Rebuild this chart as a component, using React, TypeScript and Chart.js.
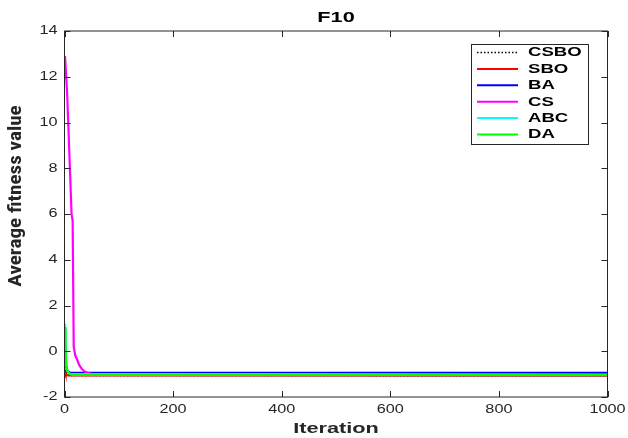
import React, { useEffect, useRef } from "react";
import { Chart, registerables } from "chart.js";

Chart.register(...registerables);

// Convergence curves: iteration -> average fitness value
const seriesNames = ["CSBO", "SBO", "BA", "CS", "ABC", "DA"];
const seriesColors = ["#000000", "#ff0000", "#0000ff", "#ff00ff", "#00ffff", "#00ff00"];

const csboIter = [1, 2, 3, 5, 8, 1000];
const csboFit = [-0.8, -1.0, -0.9, -1.03, -1.06, -1.07];

const sboIter = [1, 2, 4, 7, 1000];
const sboFit = [-0.85, -0.95, -1.03, -1.06, -1.07];

const baIter = [1, 3, 6, 10, 1000];
const baFit = [-0.25, -0.7, -0.88, -0.93, -0.94];

const csIter = [1, 5, 13, 15, 17, 20, 23, 27, 32, 38, 48, 60, 1000];
const csFit = [12.9, 11.2, 6.0, 5.7, 0.2, -0.2, -0.35, -0.6, -0.78, -0.9, -0.98, -1.03, -1.04];

const abcIter = [1, 3, 5, 8, 12, 1000];
const abcFit = [1.2, -0.6, -0.85, -0.95, -1.0, -1.03];

const daIter = [1, 2, 3, 5, 8, 14, 1000];
const daFit = [1.05, 0.2, -0.5, -0.85, -0.97, -1.03, -1.04];

const xTicks = [0, 200, 400, 600, 800, 1000];
const yTicks = [-2, 0, 2, 4, 6, 8, 10, 12, 14];

const titleText = "F10";
const xTitle = "Iteration";
const yTitle = "Average fitness value";

const iters = [csboIter, sboIter, baIter, csIter, abcIter, daIter];
const fits = [csboFit, sboFit, baFit, csFit, abcFit, daFit];

const INK = "#262626";

function wideText(
  ctx: CanvasRenderingContext2D,
  text: string,
  x: number,
  y: number,
  font: string,
  align: "left" | "center" | "right",
  sx: number,
  color: string
) {
  ctx.save();
  ctx.font = font;
  ctx.fillStyle = color;
  ctx.textBaseline = "middle";
  ctx.textAlign = "left";
  const w = ctx.measureText(text).width * sx;
  const x0 = align === "center" ? x - w / 2 : align === "right" ? x - w : x;
  ctx.translate(x0, y);
  ctx.scale(sx, 1);
  ctx.fillText(text, 0, 0);
  ctx.restore();
}

const axesDecor = {
  id: "axesDecor",
  afterDatasetsDraw(chart: any) {
    const ctx: CanvasRenderingContext2D = chart.ctx;
    const { left, right, top, bottom } = chart.chartArea;
    const xs = chart.scales.x;
    const ys = chart.scales.y;
    const tick = 6;

    ctx.save();
    ctx.strokeStyle = INK;
    ctx.lineWidth = 1;
    ctx.strokeRect(left, top, right - left, bottom - top);

    ctx.beginPath();
    xTicks.forEach((v) => {
      const px = Math.round(xs.getPixelForValue(v)) + 0.5;
      ctx.moveTo(px, bottom);
      ctx.lineTo(px, bottom - tick);
      ctx.moveTo(px, top);
      ctx.lineTo(px, top + tick);
    });
    yTicks.forEach((v) => {
      const py = Math.round(ys.getPixelForValue(v)) + 0.5;
      ctx.moveTo(left, py);
      ctx.lineTo(left + tick, py);
      ctx.moveTo(right, py);
      ctx.lineTo(right - tick, py);
    });
    ctx.stroke();
    ctx.restore();

    const tickFont = '12.5px "Liberation Sans", Arial, sans-serif';
    xTicks.forEach((v) => {
      wideText(ctx, String(v), xs.getPixelForValue(v), bottom + 13, tickFont, "center", 1.3, INK);
    });
    yTicks.forEach((v) => {
      wideText(ctx, String(v), left - 7, ys.getPixelForValue(v), tickFont, "right", 1.3, INK);
    });

    const boldFont = 'bold 14px "Liberation Sans", Arial, sans-serif';
    wideText(ctx, titleText, (left + right) / 2, 18, boldFont, "center", 1.55, "#000");
    wideText(ctx, xTitle, (left + right) / 2, bottom + 32, boldFont, "center", 1.55, INK);

    ctx.save();
    ctx.translate(17, 196);
    ctx.rotate(-Math.PI / 2);
    ctx.font = 'bold 16px "Liberation Sans Narrow", "Roboto Condensed", "Liberation Sans", sans-serif';
    ctx.fillStyle = INK;
    ctx.textAlign = "center";
    ctx.textBaseline = "middle";
    ctx.scale(1.32, 1.1);
    ctx.fillText(yTitle, 0, 0);
    ctx.restore();

    // Legend box
    const lx = 471;
    const ly = 44;
    const lw = 117;
    const lh = 100;
    ctx.save();
    ctx.fillStyle = "#ffffff";
    ctx.fillRect(lx, ly, lw, lh);
    ctx.strokeStyle = INK;
    ctx.lineWidth = 1;
    ctx.strokeRect(lx + 0.5, ly + 0.5, lw, lh);
    const rowH = 16.4;
    seriesNames.forEach((name, i) => {
      const cy = ly + 8.5 + i * rowH;
      ctx.save();
      ctx.strokeStyle = seriesColors[i];
      ctx.lineWidth = i === 0 ? 1.5 : 2;
      ctx.setLineDash(i === 0 ? [1.5, 2] : []);
      ctx.beginPath();
      ctx.moveTo(lx + 6, cy);
      ctx.lineTo(lx + 47, cy);
      ctx.stroke();
      ctx.restore();
      wideText(ctx, name, lx + 57, cy + 0.5, 'bold 12px "Liberation Sans", Arial, sans-serif', "left", 1.55, "#000");
    });
    ctx.restore();
  },
};

export default function App() {
  const canvasRef = useRef<HTMLCanvasElement | null>(null);

  useEffect(() => {
    const canvas = canvasRef.current;
    if (!canvas) return;
    const datasets = seriesNames.map((name, i) => ({
      label: name,
      data: iters[i].map((x, j) => ({ x, y: fits[i][j] })),
      borderColor: seriesColors[i],
      backgroundColor: seriesColors[i],
      borderWidth: i === 0 ? 1.5 : 2.2,
      borderDash: i === 0 ? [1.5, 2] : [],
      pointRadius: 0,
      tension: 0,
      fill: false,
      // later series are painted over earlier ones
      order: seriesNames.length - 1 - i,
    }));

    const chart = new Chart(canvas, {
      type: "line",
      data: { datasets },
      options: {
        animation: false,
        responsive: false,
        devicePixelRatio: 1,
        layout: { padding: { top: 31, right: 20.5, left: 0, bottom: 0 } },
        plugins: {
          legend: { display: false },
          title: { display: false },
          tooltip: { enabled: false },
        },
        scales: {
          x: {
            type: "linear",
            min: 0,
            max: 1000,
            ticks: { display: false },
            grid: { display: false },
            border: { display: false },
            afterFit: (s: any) => {
              s.height = 41;
            },
          },
          y: {
            type: "linear",
            min: -2,
            max: 14,
            ticks: { display: false },
            grid: { display: false },
            border: { display: false },
            afterFit: (s: any) => {
              s.width = 64.5;
            },
          },
        },
      },
      plugins: [axesDecor],
    });
    return () => chart.destroy();
  }, []);

  return (
    <div style={{ position: "absolute", left: 0, top: 0, width: 628, height: 438, background: "#fff" }}>
      <canvas ref={canvasRef} width={628} height={438} style={{ width: 628, height: 438 }} />
    </div>
  );
}
